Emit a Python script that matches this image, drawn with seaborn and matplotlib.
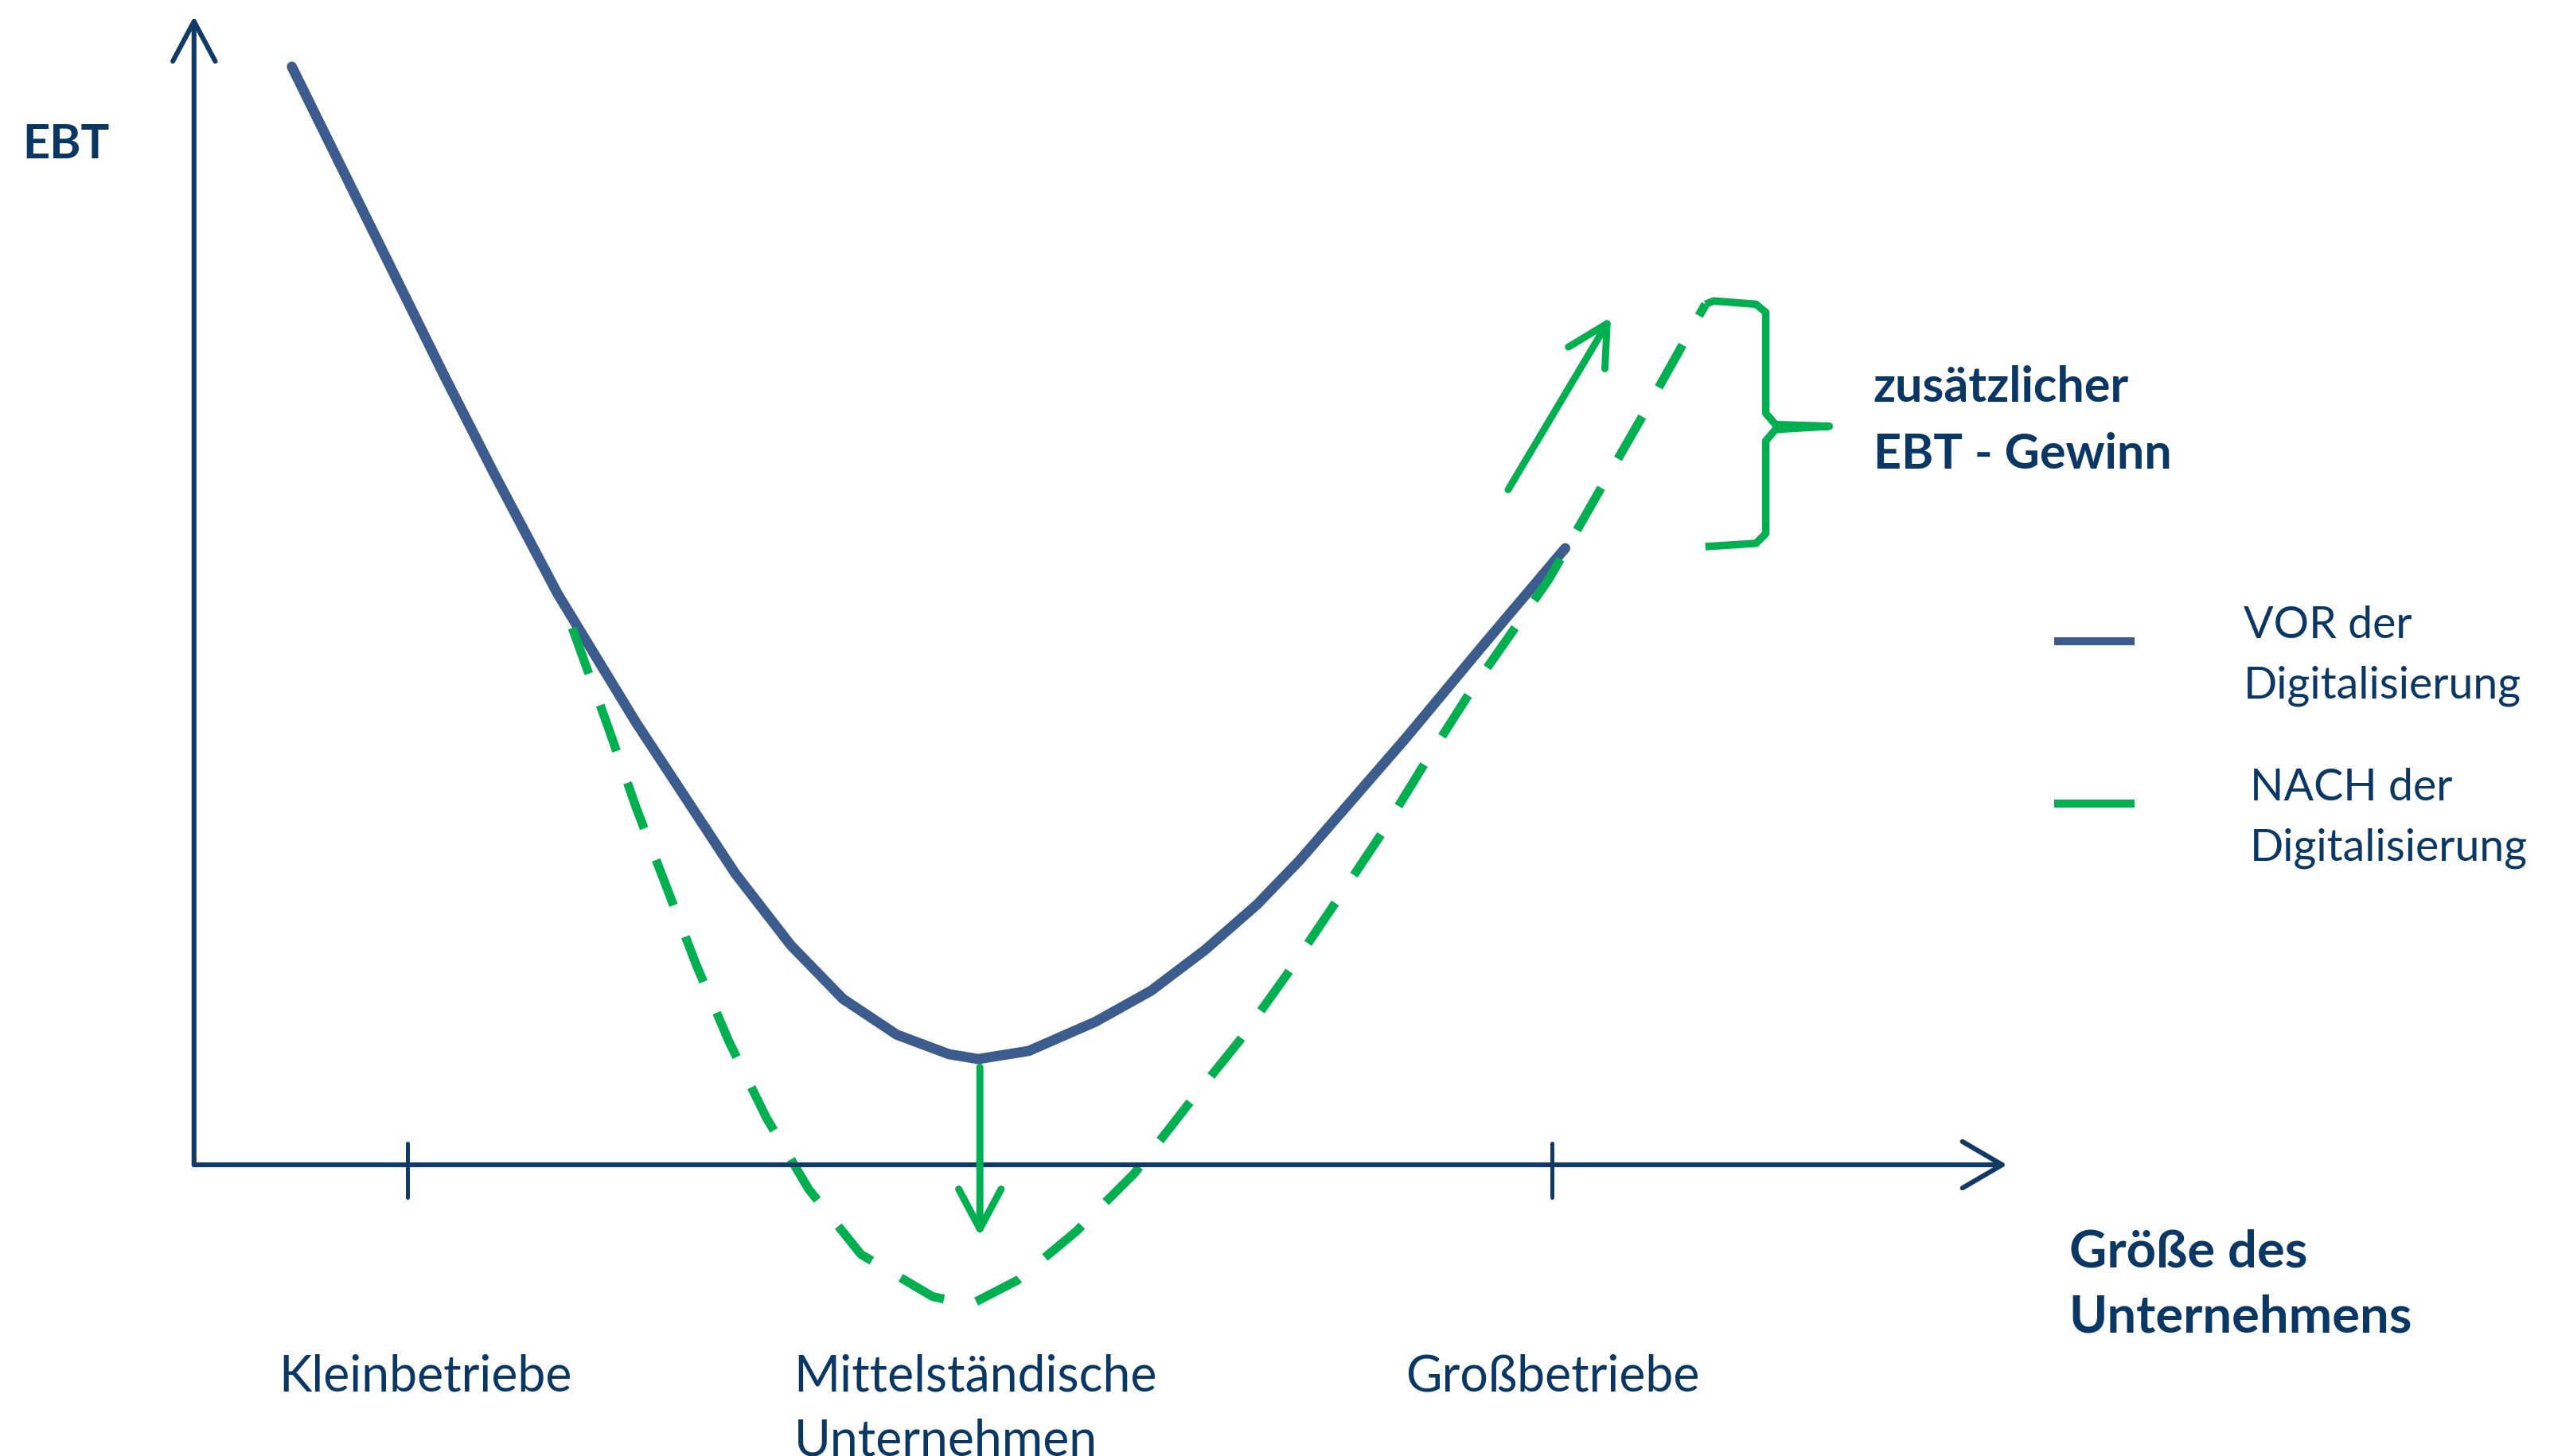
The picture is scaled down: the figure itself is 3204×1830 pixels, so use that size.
import matplotlib
matplotlib.use("Agg")
import matplotlib.pyplot as plt
import seaborn as sns

# Kurven (Unternehmensgröße -> EBT)
vor_x = [0.60, 0.89, 1.22, 1.54, 1.84, 2.23, 2.71, 3.32, 3.66, 3.98,
         4.31, 4.63, 4.81, 5.12, 5.53, 5.87, 6.20, 6.52, 6.78, 7.43,
         7.92, 8.41]
vor_y = [6.75, 6.16, 5.49, 4.84, 4.25, 3.51, 2.72, 1.79, 1.35, 1.02,
         0.80, 0.68, 0.65, 0.70, 0.88, 1.07, 1.32, 1.60, 1.87, 2.62,
         3.21, 3.79]

nach_x = [2.32, 2.54, 2.71, 3.08, 3.28, 3.51, 3.77, 4.09, 4.53, 4.76,
          5.05, 5.41, 5.77, 6.12, 6.41, 6.71, 7.00, 7.28, 7.55, 7.83,
          8.31, 8.59, 8.90, 9.27]
nach_y = [3.30, 2.69, 2.20, 1.23, 0.76, 0.29, -0.15, -0.55, -0.81, -0.86,
          -0.71, -0.41, -0.05, 0.40, 0.76, 1.18, 1.61, 2.03, 2.47, 2.91,
          3.60, 4.09, 4.63, 5.29]

tick_pos = [1.31, 8.33]
categories = ["Kleinbetriebe", "Mittelständische\nUnternehmen", "Großbetriebe"]
legend_labels = ["VOR der\nDigitalisierung", "NACH der\nDigitalisierung"]

navy = "#0b3764"
axis_col = "#123a66"
blue = "#3b5c8c"
green = "#00b050"

sns.set_theme(style="white")
plt.rcParams["font.family"] = ["Lato", "DejaVu Sans"]

fig = plt.figure(figsize=(16.02, 9.15), dpi=200)
ax = fig.add_axes([0, 0, 1, 1])
ax.set_xlim(-1.19, 14.45)
ax.set_ylim(-1.79, 7.16)
ax.set_axis_off()

# Achsen mit Pfeilen
ax.annotate("", xy=(0, 7.06), xytext=(0, 0),
            arrowprops=dict(arrowstyle="->,head_length=0.6,head_width=0.32",
                            color=axis_col, lw=2.2, mutation_scale=30,
                            shrinkA=0, shrinkB=0))
ax.annotate("", xy=(11.12, 0), xytext=(0, 0),
            arrowprops=dict(arrowstyle="->,head_length=0.6,head_width=0.35",
                            color=axis_col, lw=2.2, mutation_scale=30,
                            shrinkA=0, shrinkB=0))
for t in tick_pos:
    ax.plot([t, t], [0.13, -0.20], color=axis_col, lw=1.8)

# Kurven
sns.lineplot(x=vor_x, y=vor_y, ax=ax, color=blue, linewidth=4.6,
             sort=False, estimator=None)
ax.lines[-1].set_solid_joinstyle("round")
sns.lineplot(x=nach_x, y=nach_y, ax=ax, color=green, linewidth=4.0,
             sort=False, estimator=None)
ax.lines[-1].set_dashes((5.5, 3.8))

# grüne Pfeile
arrow_kw = dict(arrowstyle="->,head_length=0.6,head_width=0.32",
                color=green, lw=3.2, mutation_scale=30,
                shrinkA=0, shrinkB=0)
ax.annotate("", xy=(4.82, -0.44), xytext=(4.82, 0.60), arrowprops=arrow_kw)
ax.annotate("", xy=(8.69, 5.21), xytext=(8.06, 4.15), arrowprops=arrow_kw)

# geschweifte Klammer
bx = [9.27, 9.32, 9.58, 9.64, 9.64, 9.70, 10.03, 9.70, 9.64, 9.64, 9.58, 9.27]
by = [5.29, 5.31, 5.29, 5.24, 4.62, 4.55, 4.54, 4.52, 4.45, 3.88, 3.82, 3.80]
ax.plot(bx, by, color=green, lw=3.4, solid_joinstyle="round",
        solid_capstyle="butt")

# Texte
ax.text(-1.05, 6.27, "EBT", color=navy, fontsize=21.5, fontweight="bold",
        va="center", ha="left")
ax.text(10.30, 4.69, "zusätzlicher", color=navy, fontsize=22,
        fontweight="bold", va="baseline")
ax.text(10.30, 4.28, "EBT - Gewinn", color=navy, fontsize=22,
        fontweight="bold", va="baseline")
ax.text(11.50, -0.63, "Größe des", color=navy, fontsize=23.5,
        fontweight="bold", va="baseline")
ax.text(11.50, -1.03, "Unternehmens", color=navy, fontsize=23.5,
        fontweight="bold", va="baseline")

# Kategorien unter der Achse
cat_x = [0.52, 3.68, 7.43]
cat_y = -1.39
for cx, lab in zip(cat_x, categories):
    for i, line in enumerate(lab.split("\n")):
        ax.text(cx, cat_y - i * 0.40, line, color=navy, fontsize=22.5,
                va="baseline", ha="left")

# Legende
leg_y = [3.22, 2.22]
leg_cols = [blue, green]
leg_tx = [12.57, 12.61]
for ly, c, lx, lab in zip(leg_y, leg_cols, leg_tx, legend_labels):
    ax.plot([11.41, 11.90], [ly, ly], color=c, lw=3.6,
            solid_capstyle="butt")
    l1, l2 = lab.split("\n")
    ax.text(lx, ly + 0.02, l1, color=navy, fontsize=20, va="baseline")
    ax.text(lx, ly - 0.35, l2, color=navy, fontsize=20, va="baseline")

fig.savefig("out.png", dpi=200, facecolor="white")
